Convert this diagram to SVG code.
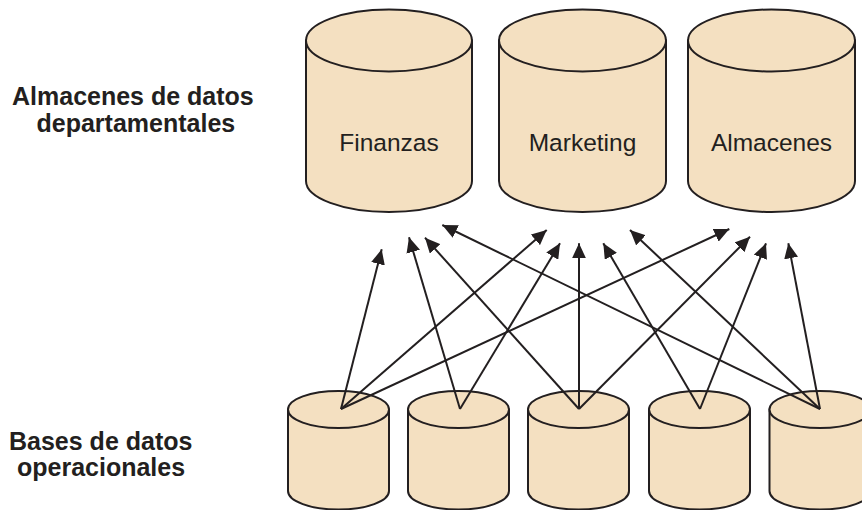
<svg xmlns="http://www.w3.org/2000/svg" width="862" height="510" viewBox="0 0 862 510">
<style>
.cyl{fill:#f4e0c1;stroke:#231f20;stroke-width:2}
.lbl{font-family:"Liberation Sans",Arial,sans-serif;font-size:24.5px;fill:#231f20}
.side{font-family:"Liberation Sans",Arial,sans-serif;font-size:25px;font-weight:bold;fill:#231f20}
.conn{stroke:#231f20;stroke-width:2;fill:none;marker-end:url(#ah)}
</style>
<defs>
<marker id="ah" markerUnits="userSpaceOnUse" markerWidth="16" markerHeight="14" viewBox="0 0 16 14" refX="15" refY="7" orient="auto">
<path d="M0,0 L15,7 L0,14 Z" fill="#231f20"/>
</marker>
</defs>
<rect width="862" height="510" fill="#ffffff"/>
<g id="label-departamentales">
<text class="side" x="12" y="105">Almacenes de datos</text>
<text class="side" x="36.5" y="132">departamentales</text>
</g>
<g id="label-operacionales">
<text class="side" x="9" y="450">Bases de datos</text>
<text class="side" x="17" y="476">operacionales</text>
</g>
<g id="finanzas">
<path class="cyl" d="M306,40.5 V181 A83,31 0 0 0 472,181 V40.5 Z"/>
<ellipse class="cyl" cx="389" cy="40.5" rx="83" ry="31"/>
<text class="lbl" x="389" y="151" text-anchor="middle">Finanzas</text>
</g>
<g id="marketing">
<path class="cyl" d="M499,40.5 V181 A83.5,31 0 0 0 666,181 V40.5 Z"/>
<ellipse class="cyl" cx="582.5" cy="40.5" rx="83.5" ry="31"/>
<text class="lbl" x="582.5" y="151" text-anchor="middle">Marketing</text>
</g>
<g id="almacenes">
<path class="cyl" d="M688,40.5 V181 A83.5,31 0 0 0 855,181 V40.5 Z"/>
<ellipse class="cyl" cx="771.5" cy="40.5" rx="83.5" ry="31"/>
<text class="lbl" x="771.5" y="151" text-anchor="middle">Almacenes</text>
</g>
<g id="op1">
<path class="cyl" d="M288,409.5 V491 A50.5,18.5 0 0 0 389,491 V409.5 Z"/>
<ellipse class="cyl" cx="338.5" cy="409.5" rx="50.5" ry="18.5"/>
</g>
<g id="op2">
<path class="cyl" d="M408,409.5 V491 A50.5,18.5 0 0 0 509,491 V409.5 Z"/>
<ellipse class="cyl" cx="458.5" cy="409.5" rx="50.5" ry="18.5"/>
</g>
<g id="op3">
<path class="cyl" d="M528,409.5 V491 A50.5,18.5 0 0 0 629,491 V409.5 Z"/>
<ellipse class="cyl" cx="578.5" cy="409.5" rx="50.5" ry="18.5"/>
</g>
<g id="op4">
<path class="cyl" d="M649,409.5 V491 A50.5,18.5 0 0 0 750,491 V409.5 Z"/>
<ellipse class="cyl" cx="699.5" cy="409.5" rx="50.5" ry="18.5"/>
</g>
<g id="op5">
<path class="cyl" d="M769.5,409.5 V491 A50.5,18.5 0 0 0 870.5,491 V409.5 Z"/>
<ellipse class="cyl" cx="820" cy="409.5" rx="50.5" ry="18.5"/>
</g>
<g id="connectors">
<line class="conn" x1="341" y1="409" x2="381.7" y2="249.3"/>
<line class="conn" x1="341" y1="409" x2="546.7" y2="230"/>
<line class="conn" x1="341" y1="409" x2="729.3" y2="229"/>
<line class="conn" x1="460" y1="409" x2="409" y2="237.3"/>
<line class="conn" x1="460" y1="409" x2="560" y2="243.3"/>
<line class="conn" x1="579" y1="409" x2="425" y2="237.7"/>
<line class="conn" x1="579" y1="409" x2="579" y2="243.3"/>
<line class="conn" x1="579" y1="409" x2="750" y2="236.7"/>
<line class="conn" x1="700" y1="409" x2="603.3" y2="243.3"/>
<line class="conn" x1="700" y1="409" x2="766" y2="243.3"/>
<line class="conn" x1="820" y1="409" x2="442.3" y2="225"/>
<line class="conn" x1="820" y1="409" x2="630" y2="230"/>
<line class="conn" x1="820" y1="409" x2="788.3" y2="243.3"/>
</g>
</svg>
